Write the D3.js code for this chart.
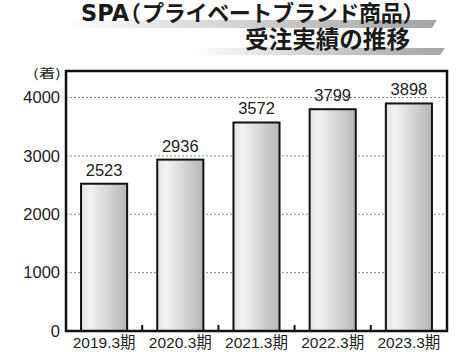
<!DOCTYPE html>
<html><head><meta charset="utf-8">
<script src="https://cdn.jsdelivr.net/npm/d3@7"></script>
<style>body{margin:0;background:#fff}svg{display:block}</style>
</head><body>
<script>
const categories = ["2019.3期","2020.3期","2021.3期","2022.3期","2023.3期"];
const values = [2523, 2936, 3572, 3799, 3898];
const yTicks = [0, 1000, 2000, 3000, 4000];
const titleLatin = "SPA";
const titleOpen = "（";
const titleBody = "プライベートブランド商品";
const titleClose = "）";
const titleLine2 = "受注実績の推移";
const unitLabel = "(着)";

const W = 474, H = 355;
const svg = d3.select("body").append("svg").attr("width", W).attr("height", H);
const font = "'Liberation Sans','Noto Sans CJK JP',sans-serif";
const tfont = "'Noto Sans CJK JP',sans-serif";
const defs = svg.append("defs");

const bg = defs.append("linearGradient").attr("id","barGrad").attr("x1","0").attr("x2","1").attr("y1","0").attr("y2","0");
bg.append("stop").attr("offset","0%").attr("stop-color","#e4e4e4");
bg.append("stop").attr("offset","20%").attr("stop-color","#f2f2f2");
bg.append("stop").attr("offset","100%").attr("stop-color","#b6b6b6");

const sg = defs.append("linearGradient").attr("id","swGrad").attr("x1","0").attr("x2","1").attr("y1","0").attr("y2","0");
sg.append("stop").attr("offset","0%").attr("stop-color","#ffffff");
sg.append("stop").attr("offset","35%").attr("stop-color","#dcdcdc");
sg.append("stop").attr("offset","100%").attr("stop-color","#a4a4a4");

// title swooshes
svg.append("path").attr("d","M65,28 L70,20 L437,20 L432,28 Z").attr("fill","url(#swGrad)");
svg.append("path").attr("d","M192,55 L197,48 L445,48 L440,55 Z").attr("fill","url(#swGrad)");

const t1 = svg.append("text").attr("x",81).attr("y",20.5).attr("font-family",tfont)
  .attr("font-weight","bold").attr("font-size",22).attr("fill","#1a1a1a");
t1.append("tspan").attr("font-family","'DejaVu Sans',sans-serif").attr("font-size",22.5).text(titleLatin);
t1.append("tspan").attr("dx",-10).text(titleOpen);
t1.append("tspan").attr("dx",1).attr("letter-spacing",-0.3).text(titleBody);
t1.append("tspan").attr("dx",0).text(titleClose);

svg.append("text").attr("x",245).attr("y",48).attr("font-family",tfont)
  .attr("font-weight","bold").attr("font-size",24).attr("fill","#1a1a1a")
  .attr("textLength",165).attr("lengthAdjust","spacingAndGlyphs").text(titleLine2);

const pLeft = 66, pRight = 447, pTop = 71, pBottom = 331;
const x = d3.scaleBand().domain(categories).range([pLeft, pRight]).padding(0);
const y = d3.scaleLinear().domain([0, 4000]).range([pBottom, 97.5]);

// gridlines
svg.append("g").selectAll("line").data(yTicks.filter(d => d > 0)).join("line")
  .attr("x1", pLeft).attr("x2", pRight).attr("y1", d => y(d)).attr("y2", d => y(d))
  .attr("stroke","#8a8a8a").attr("stroke-width",1).attr("stroke-dasharray","2,2");

// y axis labels via axis
const yAxis = svg.append("g").attr("transform",`translate(${pLeft},0)`)
  .call(d3.axisLeft(y).tickValues(yTicks).tickFormat(d3.format("d")).tickSize(0).tickPadding(6));
yAxis.select(".domain").remove();
yAxis.selectAll("text").attr("font-family",font).attr("font-size",16.5).attr("fill","#222");

svg.append("text").attr("x",33).attr("y",77.5).attr("font-family",tfont).attr("font-size",12)
  .attr("fill","#222").attr("textLength",28).attr("lengthAdjust","spacingAndGlyphs").text(unitLabel);

// bars
const bw = x.bandwidth() * 0.605;
svg.append("g").selectAll("rect").data(values).join("rect")
  .attr("x", (d,i) => x(categories[i]) + (x.bandwidth() - bw)/2)
  .attr("y", d => y(d)).attr("width", bw).attr("height", d => y(0) - y(d))
  .attr("fill","url(#barGrad)").attr("stroke","#111").attr("stroke-width",2);

// value labels
svg.append("g").selectAll("text").data(values).join("text")
  .attr("x", (d,i) => x(categories[i]) + x.bandwidth()/2).attr("y", d => y(d) - 8)
  .attr("text-anchor","middle").attr("font-family",font).attr("font-size",16.5).attr("fill","#222")
  .text(d => d);

// x axis labels
const xAxis = svg.append("g").attr("transform",`translate(0,${pBottom})`)
  .call(d3.axisBottom(x).tickSize(0).tickPadding(6));
xAxis.select(".domain").remove();
xAxis.selectAll("text").attr("font-family",font).attr("font-size",15.5).attr("fill","#222");

// inner tick marks at band boundaries
svg.append("g").selectAll("line").data(categories.slice(1)).join("line")
  .attr("x1", d => x(d)).attr("x2", d => x(d)).attr("y1", pBottom).attr("y2", pBottom - 6)
  .attr("stroke","#111").attr("stroke-width",2);

// frame
svg.append("rect").attr("x",pLeft).attr("y",pTop).attr("width",pRight-pLeft).attr("height",pBottom-pTop)
  .attr("fill","none").attr("stroke","#111").attr("stroke-width",2.5);
</script>
</body></html>
